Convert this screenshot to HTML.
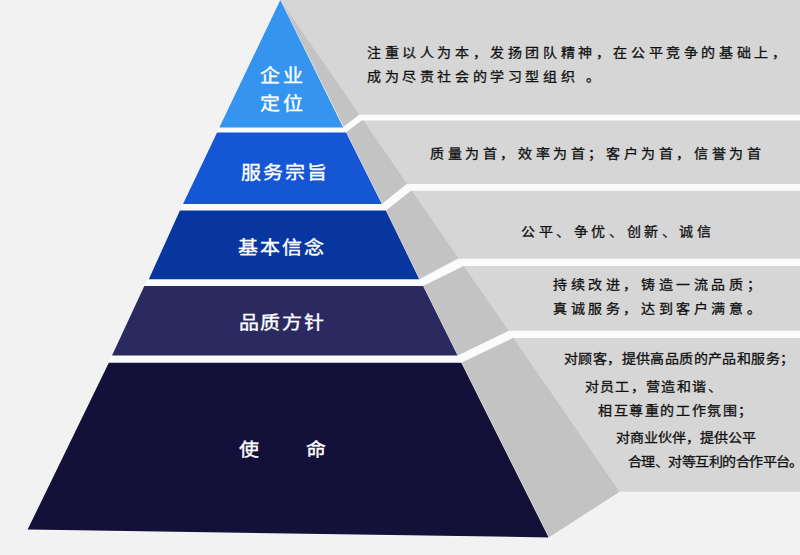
<!DOCTYPE html>
<html lang="zh-CN">
<head>
<meta charset="utf-8">
<style>
html,body{margin:0;padding:0;}
body{width:800px;height:555px;overflow:hidden;background:#f2f2f2;position:relative;font-family:"Liberation Sans",sans-serif;}
svg{position:absolute;left:0;top:0;}
.t{position:absolute;white-space:nowrap;line-height:1;}
.lab{color:#fff;font-size:20px;font-weight:500;-webkit-text-stroke:0.4px #fff;transform:scaleY(0.92);transform-origin:50% 50%;}
.rt{color:#111;font-size:14px;font-weight:500;-webkit-text-stroke:0.3px #111;letter-spacing:3.6px;transform:scaleY(0.93);transform-origin:50% 45%;}
.rt2{color:#111;font-size:14px;font-weight:500;-webkit-text-stroke:0.3px #111;transform:scaleY(0.93);transform-origin:50% 45%;}
</style>
</head>
<body>
<svg width="800" height="555" viewBox="0 0 800 555">
  <!-- light panel -->
  <polygon fill="#d6d6d6" points="279.9,0 800,0 800,491.8 619.7,491.8"/>
  <!-- side face -->
  <polygon fill="#c4c3c4" points="280.3,0 619.7,491.8 548.6,537.4"/>
  <!-- bands -->
  <g fill="#fbfbfb">
    <polygon points="219.3,127.3 342.8,127.3 359.1,114.8 800,114.8 800,120.5 361.6,120.5 345.9,132.4 217,132.4"/>
    <polygon points="183,204 381.8,204 406.75,184 800,184 800,190.75 411,190.75 386,210.4 180,210.4"/>
    <polygon points="148,279.2 419.2,279.2 457.75,258.75 800,258.75 800,266 463.5,266 423.1,285.9 143.8,285.9"/>
    <polygon points="111.5,355.6 457.6,355.6 508.9,330.8 800,330.8 800,338.1 512.7,338.1 461.3,362.7 108,362.7"/>
  </g>
  <!-- pyramid layers -->
  <g stroke="#ffffff" stroke-opacity="0.55" stroke-width="1.2" paint-order="stroke" stroke-linejoin="miter">
  <polygon fill="#3494f0" points="280.3,0 343.2,127.4 219.3,127.4"/>
  <polygon fill="#1456d4" points="217.1,132.5 346.1,132.5 381.8,204 183,204"/>
  <polygon fill="#07369e" points="179.9,210.5 385.8,210.5 419.3,279.2 148.8,279.2"/>
  <polygon fill="#2a2a60" points="144.3,286 423.1,286 457.6,355.6 112,355.6"/>
  <polygon fill="#13113a" points="108.8,362.7 461.3,362.7 548.6,537.4 27.6,529.6"/>
  </g>
</svg>

<div class="t lab" style="left:259.5px;top:66px;letter-spacing:3px">企业</div>
<div class="t lab" style="left:259.5px;top:94px;letter-spacing:3px">定位</div>
<div class="t lab" style="left:240.5px;top:162.5px;letter-spacing:2.2px">服务宗旨</div>
<div class="t lab" style="left:237.8px;top:238px;letter-spacing:2px">基本信念</div>
<div class="t lab" style="left:238.5px;top:312.5px;letter-spacing:1.8px">品质方针</div>
<div class="t lab" style="left:238.8px;top:439.8px">使</div>
<div class="t lab" style="left:306.2px;top:439.8px">命</div>

<div class="t rt" style="left:367px;top:45.2px">注重以人为本，发扬团队精神，在公平竞争的基础上，</div>
<div class="t rt" style="left:367px;top:69.2px">成为尽责社会的学习型组织 。</div>
<div class="t rt" style="left:430px;top:146.2px">质量为首，效率为首；客户为首，信誉为首</div>
<div class="t rt" style="left:521px;top:224.2px">公平、争优、创新、诚信</div>
<div class="t rt" style="left:553px;top:277.2px">持续改进，铸造一流品质；</div>
<div class="t rt" style="left:553px;top:301.2px">真诚服务，达到客户满意。</div>

<div class="t rt2" style="left:564px;top:351px;letter-spacing:0.4px">对顾客，提供高品质的产品和服务；</div>
<div class="t rt2" style="left:584.5px;top:379.2px;letter-spacing:1.4px">对员工，营造和谐、</div>
<div class="t rt2" style="left:598px;top:403.2px;letter-spacing:1.6px">相互尊重的工作氛围；</div>
<div class="t rt2" style="left:616px;top:430.2px">对商业伙伴，提供公平</div>
<div class="t rt2" style="left:628px;top:454.2px;letter-spacing:-0.55px">合理、对等互利的合作平台。</div>
</body>
</html>
